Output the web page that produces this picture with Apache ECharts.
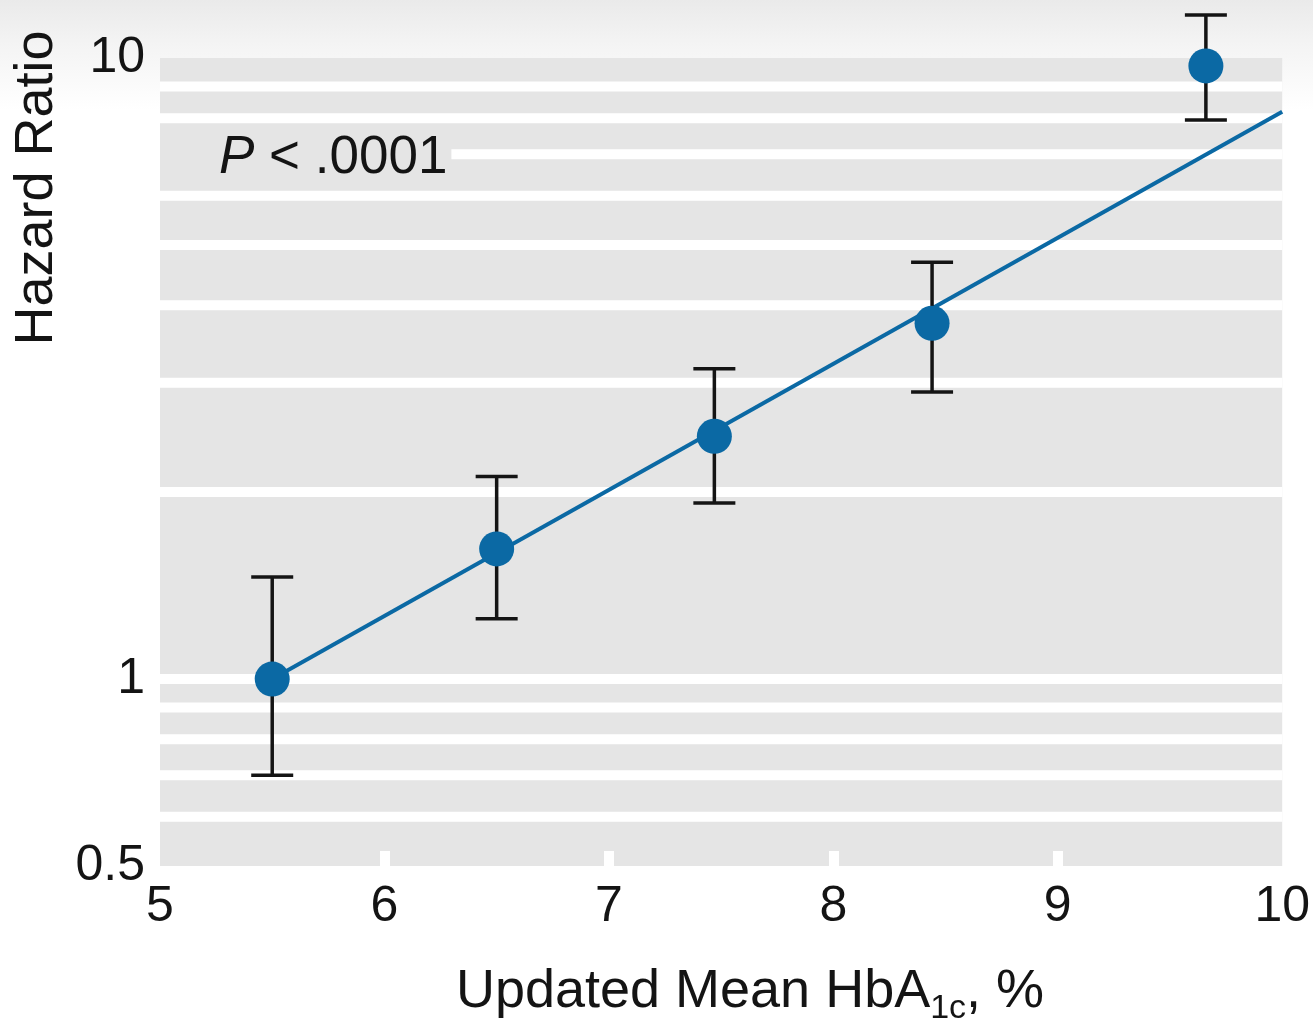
<!DOCTYPE html>
<html>
<head>
<meta charset="utf-8">
<script src="https://cdn.jsdelivr.net/npm/echarts@6/dist/echarts.min.js"></script>
<style>
  html, body {
    margin: 0;
    padding: 0;
    width: 1313px;
    height: 1019px;
    overflow: hidden;
    background: linear-gradient(to bottom, #eaeaea 0px, #f4f4f4 45px, #ffffff 110px);
  }
  #chart { width: 1313px; height: 1019px; }
</style>
</head>
<body>
<div id="chart"></div>
<script>
// Hazard ratio by updated mean HbA1c category (log scale), with 95% CI
const hba1c = [5.5, 6.5, 7.47, 8.44, 9.66];
const hazardRatio = [1.0, 1.62, 2.46, 3.74, 9.71];
const ciLower = [0.70, 1.25, 1.92, 2.90, 7.95];
const ciUpper = [1.46, 2.12, 3.16, 4.69, 11.73];

// Fitted log-linear trend
const trendX = [5.5, 10];
const trendY = [1.0, 8.19];

// Axis ticks
const xTickValues = [6, 7, 8, 9];
const yGridValues = [0.6, 0.7, 0.8, 0.9, 1, 2, 3, 4, 5, 6, 7, 8, 9];
const yLabelValues = [0.5, 1, 10];

const FONT = '"Liberation Sans", Arial, Helvetica, sans-serif';
const BLUE = '#0b69a4';
const INK = '#141414';
const PANEL = '#e5e5e5';

const chart = echarts.init(document.getElementById('chart'), null, { renderer: 'canvas' });

chart.setOption({
  animation: false,
  grid: {
    left: 160,
    right: 30,
    top: 58,
    bottom: 153,
    show: true,
    backgroundColor: PANEL,
    borderWidth: 0
  },
  xAxis: {
    type: 'value',
    min: 5,
    max: 10,
    interval: 1,
    axisLine: { show: false },
    axisTick: {
      show: true,
      inside: true,
      length: 15,
      customValues: xTickValues,
      lineStyle: { color: '#ffffff', width: 10 }
    },
    splitLine: { show: false },
    axisLabel: {
      margin: 16,
      fontSize: 50,
      fontFamily: FONT,
      color: INK
    }
  },
  yAxis: {
    type: 'log',
    logBase: 10,
    min: 0.5,
    max: 10,
    axisLine: { show: false },
    axisTick: { show: false },
    splitLine: { show: false },
    axisLabel: {
      margin: 15,
      fontSize: 50,
      fontFamily: FONT,
      color: INK,
      formatter: function (v) {
        const hit = yLabelValues.find(function (t) { return Math.abs(t - v) < 1e-6; });
        return hit === undefined ? '' : String(hit);
      }
    }
  },
  graphic: [
    {
      type: 'text',
      z: 20,
      x: 37,
      y: 188,
      rotation: Math.PI / 2,
      style: {
        text: 'Hazard Ratio',
        font: '54px ' + FONT,
        fill: INK,
        align: 'center',
        verticalAlign: 'middle'
      }
    },
    {
      type: 'text',
      z: 20,
      x: 750,
      y: 992,
      style: {
        text: 'Updated Mean HbA{sub|1c}, %',
        font: '54px ' + FONT,
        lineHeight: 68,
        fill: INK,
        align: 'center',
        verticalAlign: 'middle',
        rich: {
          sub: {
            font: '34px ' + FONT,
            lineHeight: 34,
            verticalAlign: 'bottom',
            fill: INK
          }
        }
      }
    },
    {
      type: 'text',
      z: 20,
      x: 160,
      y: 158,
      style: {
        text: '{i|P} < .0001',
        font: '53px ' + FONT,
        fill: INK,
        align: 'left',
        verticalAlign: 'middle',
        backgroundColor: PANEL,
        padding: [5, 4, 4, 59],
        rich: {
          i: { font: 'italic 53px ' + FONT, fill: INK }
        }
      }
    }
  ],
  series: [
    {
      // white horizontal rules at the log-scale gridline values
      type: 'custom',
      z: 1,
      silent: true,
      clip: false,
      data: yGridValues.map(function (v) { return [5, v]; }),
      encode: { x: 0, y: 1 },
      renderItem: function (params, api) {
        const cs = params.coordSys;
        const p = api.coord([api.value(0), api.value(1)]);
        return {
          type: 'line',
          shape: { x1: cs.x, y1: p[1], x2: cs.x + cs.width, y2: p[1] },
          style: { stroke: '#ffffff', lineWidth: 10 }
        };
      }
    },
    {
      type: 'line',
      z: 3,
      silent: true,
      showSymbol: false,
      data: trendX.map(function (x, i) { return [x, trendY[i]]; }),
      lineStyle: { color: BLUE, width: 4 }
    },
    {
      // 95% confidence interval whiskers
      type: 'custom',
      z: 4,
      silent: true,
      clip: false,
      data: hba1c.map(function (x, i) { return [x, ciLower[i], ciUpper[i]]; }),
      encode: { x: 0, y: [1, 2] },
      renderItem: function (params, api) {
        const x = api.value(0);
        const lo = api.coord([x, api.value(1)]);
        const hi = api.coord([x, api.value(2)]);
        const cap = 21;
        const st = { stroke: INK, lineWidth: 3.5 };
        return {
          type: 'group',
          children: [
            { type: 'line', shape: { x1: lo[0], y1: lo[1], x2: hi[0], y2: hi[1] }, style: st },
            { type: 'line', shape: { x1: lo[0] - cap, y1: lo[1], x2: lo[0] + cap, y2: lo[1] }, style: st },
            { type: 'line', shape: { x1: hi[0] - cap, y1: hi[1], x2: hi[0] + cap, y2: hi[1] }, style: st }
          ]
        };
      }
    },
    {
      type: 'scatter',
      z: 5,
      silent: true,
      symbol: 'circle',
      symbolSize: 35,
      data: hba1c.map(function (x, i) { return [x, hazardRatio[i]]; }),
      itemStyle: { color: BLUE, opacity: 1 }
    }
  ]
});
</script>
</body>
</html>
